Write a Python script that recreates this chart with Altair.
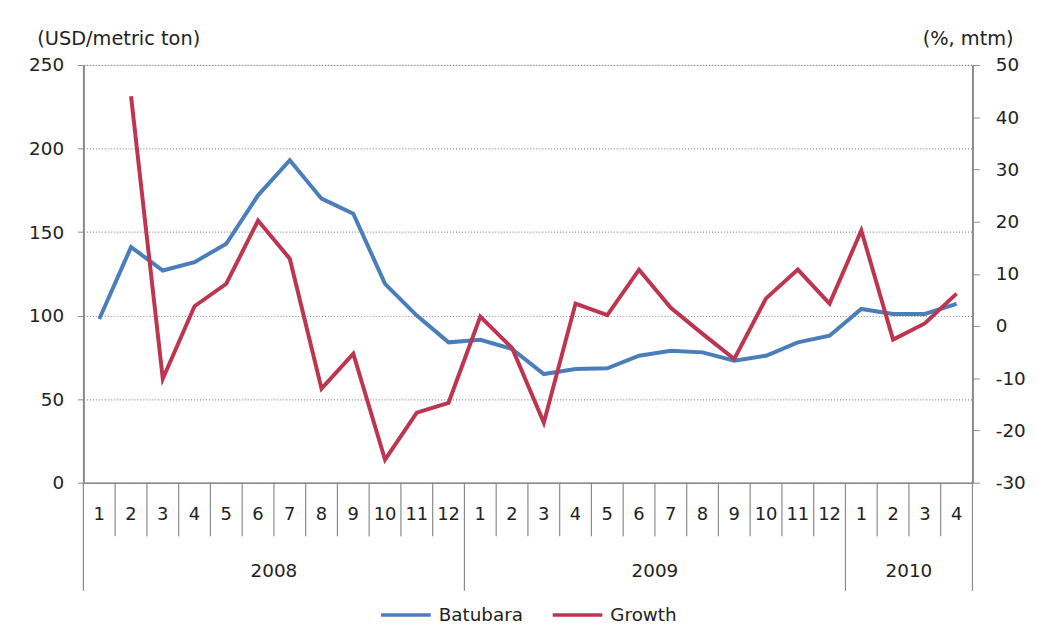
import altair as alt
import pandas as pd

months = [1,2,3,4,5,6,7,8,9,10,11,12, 1,2,3,4,5,6,7,8,9,10,11,12, 1,2,3,4]
years = ["2008"]*12 + ["2009"]*12 + ["2010"]*4
batubara = [98,141,127,132,143,172,193,170,161,119,100,84,
            85.5,80,65,68,68.5,76,79,78,73,76,84,88,
            104,101,101,107]
growth = [None,44,-10.1,3.8,8.1,20.2,12.9,-12,-5.3,-25.6,-16.6,-14.7,
          1.8,-4.2,-18.5,4.3,2.1,10.8,3.5,-1.5,-6.3,5.3,10.8,4.3,
          18.3,-2.6,0.5,6.2]
year_names = ["2008", "2009", "2010"]
year_mid = [6, 18, 26]
year_bounds = [0, 12, 24, 28]
left_ticks = [0, 50, 100, 150, 200, 250]
right_ticks = [-30, -20, -10, 0, 10, 20, 30, 40, 50]

W, H = 896, 421
BLUE = "#4a7ebb"
RED = "#be3550"
FONT = "DejaVu Sans"
TXT = "#222222"
AX = "#8a8a8a"

df = pd.DataFrame({
    "pos": [i + 0.5 for i in range(len(months))],
    "month": [str(m) for m in months],
    "year": years,
    "Batubara": batubara,
    "Growth": growth,
})
df_b = df.assign(series="Batubara")
df_g = df.dropna(subset=["Growth"]).assign(series="Growth")

xscale = alt.Scale(domain=[0, 28], nice=False, zero=False)
xenc = alt.X("pos:Q", scale=xscale,
             axis=alt.Axis(labels=False, ticks=False, grid=False, title=None,
                           domainColor=AX, domainWidth=1.5))
color = alt.Color("series:N",
                  scale=alt.Scale(domain=["Batubara", "Growth"], range=[BLUE, RED]),
                  legend=alt.Legend(orient="none", legendX=298, legendY=527,
                                    direction="horizontal", title=None,
                                    symbolType="stroke", symbolStrokeWidth=3.5,
                                    symbolSize=2500, labelFont=FONT,
                                    labelFontSize=18.5, labelColor=TXT,
                                    columnPadding=22, labelOffset=6))

MINUS = "replace(datum.label, '\u2212', '-')"

line_b = alt.Chart(df_b).mark_line(strokeWidth=4).encode(
    x=xenc,
    y=alt.Y("Batubara:Q",
            scale=alt.Scale(domain=[0, 250], nice=False),
            axis=alt.Axis(values=left_ticks, title="(USD/metric ton)",
                          titleAngle=0, titleAlign="left", titleAnchor="start",
                          titleBaseline="middle",
                          titleX=-47, titleY=-27, titleFont=FONT,
                          titleFontWeight="normal", titleFontSize=19.5,
                          titleColor=TXT, labelFont=FONT, labelFontSize=18.5,
                          labelColor=TXT, labelPadding=14, labelExpr=MINUS,
                          grid=True, gridDash=[1, 2], gridColor=AX,
                          gridWidth=1.2, tickColor=AX, tickSize=6,
                          domainColor=AX, domainWidth=2)),
    color=color,
)

line_g = alt.Chart(df_g).mark_line(strokeWidth=4).encode(
    x=xenc,
    y=alt.Y("Growth:Q",
            scale=alt.Scale(domain=[-30, 50], nice=False, zero=False),
            axis=alt.Axis(orient="right", values=right_ticks, title="(%, mtm)",
                          titleAngle=0, titleAlign="right", titleAnchor="start",
                          titleBaseline="middle",
                          titleX=41, titleY=-27, titleFont=FONT,
                          titleFontWeight="normal", titleFontSize=19.5,
                          titleColor=TXT, labelFont=FONT, labelFontSize=18.5,
                          labelColor=TXT, labelPadding=16, labelExpr=MINUS,
                          grid=False, tickColor=AX, tickSize=7,
                          domainColor=AX, domainWidth=2)),
    color=color,
)

# month labels under the axis
month_text = alt.Chart(df).mark_text(font=FONT, fontSize=18, color=TXT,
                                     baseline="middle").encode(
    x=alt.X("pos:Q", scale=xscale),
    y=alt.value(H + 33),
    text="month:N",
)

sep_df = pd.DataFrame({"b": list(range(29))})
sep_df["long"] = sep_df["b"].isin(year_bounds)
month_sep = alt.Chart(sep_df[~sep_df["long"]]).mark_rule(color=AX, strokeWidth=1.2).encode(
    x=alt.X("b:Q", scale=xscale),
    y=alt.value(H),
    y2=alt.value(H + 54),
)
year_sep = alt.Chart(sep_df[sep_df["long"]]).mark_rule(color=AX, strokeWidth=1.2).encode(
    x=alt.X("b:Q", scale=xscale),
    y=alt.value(H),
    y2=alt.value(H + 109),
)

yr_df = pd.DataFrame({"name": year_names, "mid": year_mid})
year_text = alt.Chart(yr_df).mark_text(font=FONT, fontSize=18.5, color=TXT,
                                       baseline="middle").encode(
    x=alt.X("mid:Q", scale=xscale),
    y=alt.value(H + 89),
    text="name:N",
)

chart = alt.layer(
    line_b, line_g, month_sep, year_sep, month_text, year_text
).resolve_scale(y="independent").properties(
    width=W, height=H,
    autosize=alt.AutoSizeParams(type="none"),
    padding={"left": 76, "top": 55, "right": 57, "bottom": 140},
).configure_view(stroke=None).configure(background="white")

chart.save("out.html", embed_options={"renderer": "svg", "actions": False})
